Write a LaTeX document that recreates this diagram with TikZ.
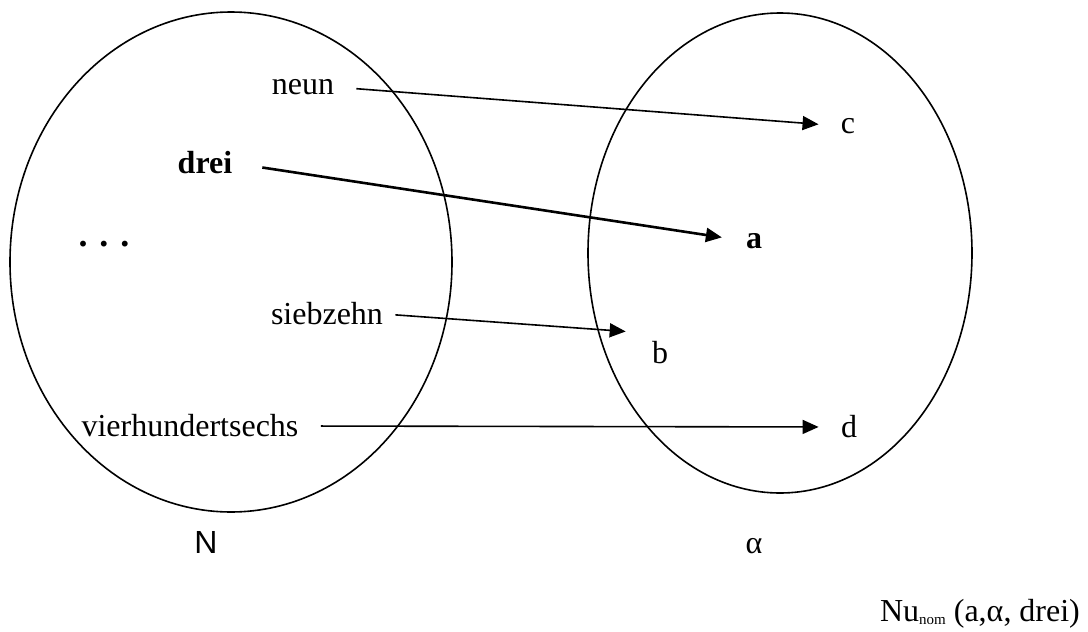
\documentclass[tikz,border=0pt]{standalone}
\usepackage{fontspec}
\setmainfont{Liberation Serif}
\newfontfamily\natfont{Liberation Sans}
\usetikzlibrary{arrows.meta}

\begin{document}
\begin{tikzpicture}[
  x=0.5pt, y=-0.5pt,
  every node/.style={inner sep=0pt, font=\fontsize{16}{19}\selectfont},
  set/.style={line width=0.8pt},
  map/.style={draw, line width=0.8pt, -{Triangle[length=8pt, width=7pt]}, shorten <=11pt, shorten >=11pt}
]
\useasboundingbox (0,0) rectangle (1088,632);

\draw[set] (231,262) ellipse [x radius=110.5pt, y radius=125pt];
\draw[set] (780,253) ellipse [x radius=96pt, y radius=120pt];

\node (neun) at (303,87) {neun};
\node (drei) at (205,163) {\textbf{drei}};
\node (dots) at (104,244) {\fontsize{18}{20}\selectfont\textbf{.\,\,.\,\,.}};
\node (siebzehn) at (327,314) {siebzehn};
\node (vier) at (190,426) {vierhundertsechs};

\node (c) at (848,126) {c};
\node (a) at (754,241) {\textbf{a}};
\node (b) at (660,353) {b};
\node (d) at (849,427) {d};

\node (N) at (206,542) {\natfont N};
\node (alpha) at (754,546) {α};
\node (nu) at (980,614) {Nu\raisebox{-1.5pt}{\fontsize{7.5}{8}\selectfont nom} (a,α, drei)};

\draw[map] (neun.east) -- (c.west);
\draw[map, line width=1.3pt, shorten <=15pt, shorten >=12pt] (drei.east) -- (a.west);
\draw[map, shorten <=6pt, shorten >=13pt] (siebzehn.east) -- ([yshift=4pt]b.north west);
\draw[map] (vier.east) -- (d.west);

\end{tikzpicture}
\end{document}
